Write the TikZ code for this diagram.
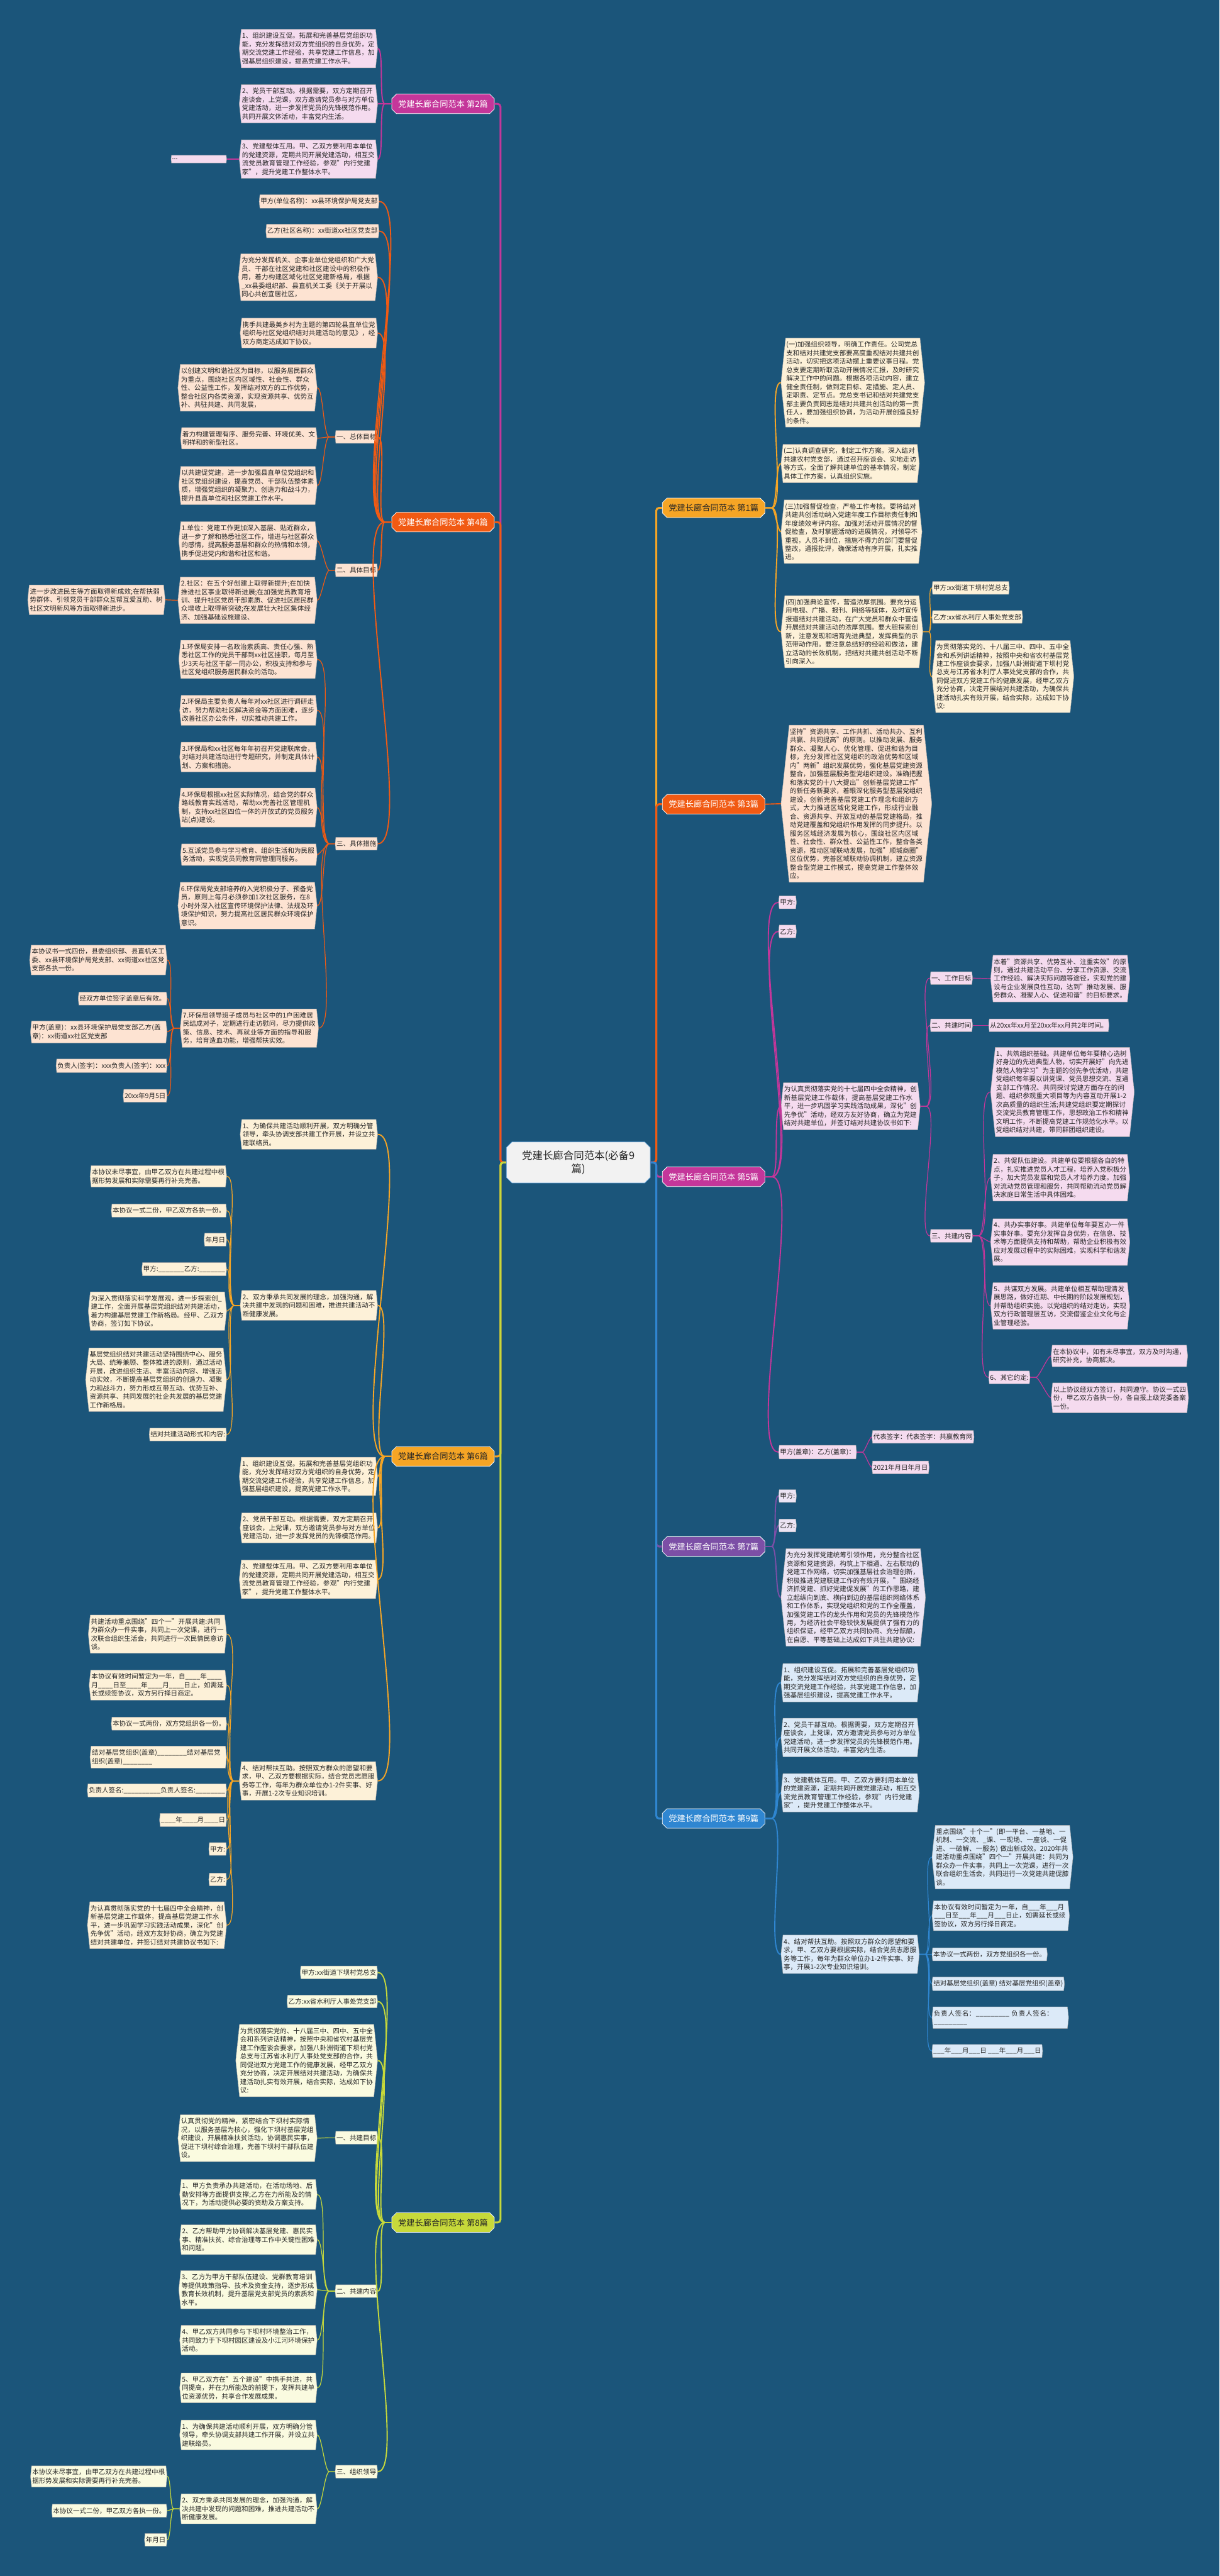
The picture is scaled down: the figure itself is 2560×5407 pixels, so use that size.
\documentclass[tikz,border=0pt]{standalone}
\usepackage{fontspec}
\setmainfont{Noto Sans CJK SC}
\XeTeXlinebreaklocale "zh"
\XeTeXlinebreakskip=0pt plus 1pt
\newcommand\cjkbrk{\hskip0pt plus 0.4pt\relax}
\XeTeXinterchartokenstate=1
\XeTeXinterchartoks 1 1 = {\cjkbrk}
\XeTeXinterchartoks 1 2 = {\cjkbrk}
\XeTeXinterchartoks 1 3 = {\cjkbrk}
\XeTeXinterchartoks 2 1 = {\cjkbrk}
\XeTeXinterchartoks 3 1 = {\cjkbrk}
\XeTeXinterchartoks 3 2 = {\cjkbrk}
\XeTeXinterchartoks 3 3 = {\cjkbrk}
\XeTeXinterchartoks 0 1 = {\cjkbrk}
\XeTeXinterchartoks 1 0 = {\cjkbrk}
\XeTeXinterchartoks 0 3 = {\cjkbrk}
\XeTeXinterchartoks 3 0 = {\cjkbrk}
\XeTeXinterchartoks 0 2 = {\cjkbrk}
\newcommand\leaffont{\fontsize{13.9}{17.8}\selectfont\lineskiplimit=-40pt\relax}
\newcommand\hubfont{\fontsize{21.7}{28}\selectfont\lineskiplimit=-40pt\relax}
\usetikzlibrary{shapes.symbols,shapes.misc}

\definecolor{bgc}{HTML}{1B557A}
\definecolor{mag}{HTML}{C4369A}
\definecolor{magL}{HTML}{F5DBEF}
\definecolor{org}{HTML}{F15A13}
\definecolor{orgL}{HTML}{FDE3D2}
\definecolor{yel}{HTML}{F6A525}
\definecolor{yelL}{HTML}{FDF1D8}
\definecolor{pur}{HTML}{7C4FA6}
\definecolor{purL}{HTML}{ECE4F4}
\definecolor{grn}{HTML}{C7D93A}
\definecolor{grnL}{HTML}{FAFBE0}
\definecolor{blu}{HTML}{2F86D1}
\definecolor{bluL}{HTML}{DCEAF8}

\tikzset{
  leaf/.style={signal, signal to=east and west, signal pointer angle=168,
    inner xsep=1.5pt, inner ysep=7pt, align=left, text=black!85,
    font=\leaffont},
  wide/.style={leaf, text width=279pt},
  pk/.style={fill=magL, draw=black!35, line width=0.6pt},
  pe/.style={fill=orgL, draw=black!35, line width=0.6pt},
  cr/.style={fill=yelL, draw=black!35, line width=0.6pt},
  lv/.style={fill=purL, draw=black!35, line width=0.6pt},
  lg/.style={fill=grnL, draw=black!35, line width=0.6pt},
  lb/.style={fill=bluL, draw=black!35, line width=0.6pt},
  ban/.style={chamfered rectangle, chamfered rectangle xsep=6pt,
    minimum width=215pt, minimum height=41pt, inner sep=2pt,
    draw=white, line width=1pt, font=\fontsize{17.5}{21}\selectfont},
  hub/.style={chamfered rectangle, chamfered rectangle xsep=8pt,
    fill=black!5, draw=blu!70, line width=1pt, minimum width=302pt,
    minimum height=86pt, align=center, text=black!85, font=\hubfont},
  trk/.style={line width=4pt, rounded corners=6pt},
  l1/.style={line width=2.5pt},
  l2/.style={line width=1.6pt},
  fl/.style={out=180,in=0,looseness=0.3},
  fr/.style={out=0,in=180,looseness=0.3}
}

\begin{document}
\begin{tikzpicture}[x=1pt,y=-1pt]
\fill[bgc] (0,0) rectangle (2560,5407);

\node[hub] (ctr) at (1214,2440) {党建长廊合同范本(必备9\\篇)};

% left: 第2篇
\node[ban, fill=mag, text=white] (b2) at (930,218) {党建长廊合同范本 第2篇};
\node[wide, pk, anchor=east] (b2a) at (793,102) {1、组织建设互促。拓展和完善基层党组织功能，充分发挥结对双方党组织的自身优势，定期交流党建工作经验，共享党建工作信息，加强基层组织建设，提高党建工作水平。};
\node[wide, pk, anchor=east] (b2b) at (793,218) {2、党员干部互动。根据需要，双方定期召开座谈会，上党课，双方邀请党员参与对方单位党建活动，进一步发挥党员的先锋模范作用。共同开展文体活动，丰富党内生活。};
\node[wide, pk, anchor=east] (b2c) at (793,334) {3、党建载体互用。甲、乙双方要利用本单位的党建资源，定期共同开展党建活动，相互交流党员教育管理工作经验，参观"内行党建家"，提升党建工作整体水平。};
\node[leaf, pk, anchor=east, text width=112pt] (b2d) at (476,334) {...};

% left: 第4篇
\node[ban, fill=org, text=white] (b4) at (930,1096) {党建长廊合同范本 第4篇};
\node[leaf, pe, anchor=east] (b4a) at (796,423) {甲方(单位名称)：xx县环境保护局党支部};
\node[leaf, pe, anchor=east] (b4b) at (796,485) {乙方(社区名称)：xx街道xx社区党支部};
\node[wide, pe, anchor=east] (b4c) at (793,582) {为充分发挥机关、企事业单位党组织和广大党员、干部在社区党建和社区建设中的积极作用，着力构建区域化社区党建新格局，根据\_xx县委组织部、县直机关工委《关于开展以同心共创宜居社区，};
\node[wide, pe, anchor=east] (b4d) at (793,699) {携手共建最美乡村为主题的第四轮县直单位党组织与社区党组织结对共建活动的意见》，经双方商定达成如下协议。};
\node[leaf, pe, anchor=east] (b4e) at (793,917) {一、总体目标};
\node[wide, pe, anchor=east] (b4e1) at (666,814) {以创建文明和谐社区为目标，以服务居民群众为重点，围绕社区内区域性、社会性、群众性、公益性工作，发挥结对双方的工作优势，整合社区内各类资源，实现资源共享、优势互补、共驻共建、共同发展，};
\node[wide, pe, anchor=east] (b4e2) at (666,920) {着力构建管理有序、服务完善、环境优美、文明祥和的新型社区。};
\node[wide, pe, anchor=east] (b4e3) at (666,1019) {以共建促党建，进一步加强县直单位党组织和社区党组织建设，提高党员、干部队伍整体素质，增强党组织的凝聚力、创造力和战斗力，提升县直单位和社区党建工作水平。};
\node[leaf, pe, anchor=east] (b4f) at (793,1197) {二、具体目标};
\node[wide, pe, anchor=east] (b4f1) at (666,1135) {1.单位：党建工作更加深入基层、贴近群众，进一步了解和熟悉社区工作，增进与社区群众的感情，提高服务基层和群众的热情和本领，携手促进党内和谐和社区和谐。};
\node[wide, pe, anchor=east] (b4f2) at (666,1260) {2.社区：在五个好创建上取得新提升;在加快推进社区事业取得新进展;在加强党员教育培训、提升社区党员干部素质、促进社区居民群众增收上取得新突破;在发展壮大社区集体经济、加强基础设施建设、};
\node[wide, pe, anchor=east] (b4f2a) at (347,1259) {进一步改进民生等方面取得新成效;在帮扶弱势群体、引领党员干部群众互帮互爱互助、树社区文明新风等方面取得新进步。};
\node[leaf, pe, anchor=east] (b4g) at (793,1771) {三、具体措施};
\node[wide, pe, anchor=east] (b4g1) at (666,1384) {1.环保局安排一名政治素质高、责任心强、熟悉社区工作的党员干部到xx社区挂职，每月至少3天与社区干部一同办公，积极支持和参与社区党组织服务居民群众的活动。};
\node[wide, pe, anchor=east] (b4g2) at (666,1491) {2.环保局主要负责人每年对xx社区进行调研走访，努力帮助社区解决资金等方面困难，逐步改善社区办公条件，切实推动共建工作。};
\node[wide, pe, anchor=east] (b4g3) at (666,1589) {3.环保局和xx社区每年年初召开党建联席会，对结对共建活动进行专题研究，并制定具体计划、方案和措施。};
\node[wide, pe, anchor=east] (b4g4) at (666,1695) {4.环保局根据xx社区实际情况，结合党的群众路线教育实践活动，帮助xx完善社区管理机制，支持xx社区四位一体的开放式的党员服务站(点)建设。};
\node[wide, pe, anchor=east] (b4g5) at (666,1794) {5.互派党员参与学习教育、组织生活和为民服务活动，实现党员同教育同管理同服务。};
\node[wide, pe, anchor=east] (b4g6) at (666,1901) {6.环保局党支部培养的入党积极分子、预备党员，原则上每月必须参加1次社区服务，在8小时外深入社区宣传环境保护法律、法规及环境保护知识，努力提高社区居民群众环境保护意识。};
\node[wide, pe, anchor=east] (b4g7) at (669,2158) {7.环保局领导班子成员与社区中的1户困难居民结成对子，定期进行走访慰问，尽力提供政策、信息、技术、再就业等方面的指导和服务，培育造血功能，增强帮扶实效。};
\node[wide, pe, anchor=east] (b4h1) at (351,2015) {本协议书一式四份，县委组织部、县直机关工委、xx县环境保护局党支部、xx街道xx社区党支部各执一份。};
\node[leaf, pe, anchor=east] (b4h2) at (351,2096) {经双方单位签字盖章后有效。};
\node[wide, pe, anchor=east] (b4h3) at (351,2166) {甲方(盖章)：xx县环境保护局党支部乙方(盖章)：xx街道xx社区党支部};
\node[leaf, pe, anchor=east] (b4h4) at (351,2237) {负责人(签字)：xxx负责人(签字)：xxx};
\node[leaf, pe, anchor=east] (b4h5) at (351,2300) {20xx年9月5日};

% left: 第6篇
\node[ban, fill=yel, text=black!85] (b6) at (930,3057) {党建长廊合同范本 第6篇};
\node[wide, cr, anchor=east] (b6a) at (793,2381) {1、为确保共建活动顺利开展，双方明确分管领导，牵头协调支部共建工作开展，并设立共建联络员。};
\node[wide, cr, anchor=east] (b6b) at (793,2740) {2、双方秉承共同发展的理念，加强沟通，解决共建中发现的问题和困难，推进共建活动不断健康发展。};
\node[wide, cr, anchor=east] (b6b1) at (476,2469) {本协议未尽事宜，由甲乙双方在共建过程中根据形势发展和实际需要再行补充完善。};
\node[leaf, cr, anchor=east] (b6b2) at (476,2541) {本协议一式二份，甲乙双方各执一份。};
\node[leaf, cr, anchor=east] (b6b3) at (476,2602) {年月日};
\node[leaf, cr, anchor=east] (b6b4) at (476,2664) {甲方:\_\_\_\_\_\_\_乙方:\_\_\_\_\_\_\_};
\node[wide, cr, anchor=east] (b6b5) at (476,2752) {为深入贯彻落实科学发展观，进一步探索创\_建工作，全面开展基层党组织结对共建活动，着力构建基层党建工作新格局。经甲、乙双方协商，签订如下协议。};
\node[wide, cr, anchor=east] (b6b6) at (476,2896) {基层党组织结对共建活动坚持围绕中心、服务大局、统筹兼顾、整体推进的原则，通过活动开展，改进组织生活、丰富活动内容、增强活动实效，不断提高基层党组织的创造力、凝聚力和战斗力，努力形成互带互动、优势互补、资源共享、共同发展的社企共发展的基层党建工作新格局。};
\node[leaf, cr, anchor=east] (b6b7) at (476,3011) {结对共建活动形式和内容:};
\node[wide, cr, anchor=east] (b6c) at (793,3099) {1、组织建设互促。拓展和完善基层党组织功能，充分发挥结对双方党组织的自身优势，定期交流党建工作经验，共享党建工作信息，加强基层组织建设，提高党建工作水平。};
\node[wide, cr, anchor=east] (b6d) at (793,3207) {2、党员干部互动。根据需要，双方定期召开座谈会，上党课，双方邀请党员参与对方单位党建活动，进一步发挥党员的先锋模范作用。};
\node[wide, cr, anchor=east] (b6e) at (793,3315) {3、党建载体互用。甲、乙双方要利用本单位的党建资源，定期共同开展党建活动，相互交流党员教育管理工作经验，参观"内行党建家"，提升党建工作整体水平。};
\node[wide, cr, anchor=east] (b6f) at (793,3738) {4、结对帮扶互助。按照双方群众的愿望和要求，甲、乙双方要根据实际，结合党员志愿服务等工作，每年为群众单位办1-2件实事、好事，开展1-2次专业知识培训。};
\node[wide, cr, anchor=east] (b6f1) at (476,3430) {共建活动重点围绕"四个一"开展共建:共同为群众办一件实事，共同上一次党课，进行一次联合组织生活会，共同进行一次民情民意访谈。};
\node[wide, cr, anchor=east] (b6f2) at (476,3537) {本协议有效时间暂定为一年，自\_\_\_\_年\_\_\_\_月\_\_\_\_日至\_\_\_\_年\_\_\_\_月\_\_\_\_日止，如需延长或续签协议，双方另行择日商定。};
\node[leaf, cr, anchor=east] (b6f3) at (476,3618) {本协议一式两份，双方党组织各一份。};
\node[wide, cr, anchor=east] (b6f4) at (476,3688) {结对基层党组织(盖章)\_\_\_\_\_\_\_\_结对基层党组织(盖章)\_\_\_\_\_\_\_\_};
\node[leaf, cr, anchor=east] (b6f5) at (476,3758) {负责人签名:\_\_\_\_\_\_\_\_\_\_负责人签名:\_\_\_\_\_\_\_\_};
\node[leaf, cr, anchor=east] (b6f6) at (476,3820) {\_\_\_\_年\_\_\_\_月\_\_\_\_日};
\node[leaf, cr, anchor=east] (b6f7) at (476,3881) {甲方:};
\node[leaf, cr, anchor=east] (b6f8) at (476,3945) {乙方:};
\node[wide, cr, anchor=east] (b6f9) at (476,4041) {为认真贯彻落实党的十七届四中全会精神，创新基层党建工作载体，提高基层党建工作水平，进一步巩固学习实践活动成果，深化"创先争优"活动，经双方友好协商，确立为党建结对共建单位，并签订结对共建协议书如下:};

% left: 第8篇
\node[ban, fill=grn, text=black!85] (b8) at (930,4665) {党建长廊合同范本 第8篇};
\node[leaf, lg, anchor=east] (b8a) at (793,4140) {甲方:xx街道下坝村党总支};
\node[leaf, lg, anchor=east] (b8b) at (793,4201) {乙方:xx省水利厅人事处党支部};
\node[wide, lg, anchor=east] (b8c) at (793,4325) {为贯彻落实党的、十八届三中、四中、五中全会和系列讲话精神，按照中央和省农村基层党建工作座谈会要求，加强八卦洲街道下坝村党总支与江苏省水利厅人事处党支部的合作，共同促进双方党建工作的健康发展，经甲乙双方充分协商，决定开展结对共建活动，为确保共建活动扎实有效开展，结合实际，达成如下协议:};
\node[leaf, lg, anchor=east] (b8d) at (793,4487) {一、共建目标};
\node[wide, lg, anchor=east] (b8d1) at (666,4488) {认真贯彻党的精神，紧密结合下坝村实际情况，以服务基层为核心，强化下坝村基层党组织建设，开展精准扶贫活动，协调惠民实事，促进下坝村综合治理，完善下坝村干部队伍建设。};
\node[leaf, lg, anchor=east] (b8e) at (793,4809) {二、共建内容};
\node[wide, lg, anchor=east] (b8e1) at (666,4606) {1、甲方负责承办共建活动，在活动场地、后勤安排等方面提供支撑;乙方在力所能及的情况下，为活动提供必要的资助及方案支持。};
\node[wide, lg, anchor=east] (b8e2) at (666,4701) {2、乙方帮助甲方协调解决基层党建、惠民实事、精准扶贫、综合治理等工作中关键性困难和问题。};
\node[wide, lg, anchor=east] (b8e3) at (666,4806) {3、乙方为甲方干部队伍建设、党群教育培训等提供政策指导、技术及资金支持，逐步形成教育长效机制，提升基层党支部党员的素质和水平。};
\node[wide, lg, anchor=east] (b8e4) at (666,4912) {4、甲乙双方共同参与下坝村环境整治工作，共同致力于下坝村园区建设及小江河环境保护活动。};
\node[wide, lg, anchor=east] (b8e5) at (666,5012) {5、甲乙双方在"五个建设"中携手共进，共同提高，并在力所能及的前提下，发挥共建单位资源优势，共享合作发展成果。};
\node[leaf, lg, anchor=east] (b8f) at (793,5188) {三、组织领导};
\node[wide, lg, anchor=east] (b8f1) at (666,5111) {1、为确保共建活动顺利开展，双方明确分管领导，牵头协调支部共建工作开展，并设立共建联络员。};
\node[wide, lg, anchor=east] (b8f2) at (666,5266) {2、双方秉承共同发展的理念，加强沟通，解决共建中发现的问题和困难，推进共建活动不断健康发展。};
\node[wide, lg, anchor=east] (b8f2a) at (351,5198) {本协议未尽事宜，由甲乙双方在共建过程中根据形势发展和实际需要再行补充完善。};
\node[leaf, lg, anchor=east] (b8f2b) at (351,5270) {本协议一式二份，甲乙双方各执一份。};
\node[leaf, lg, anchor=east] (b8f2c) at (351,5331) {年月日};

% right: 第1篇
\node[ban, fill=yel, text=black!85] (r1) at (1498,1066) {党建长廊合同范本 第1篇};
\node[wide, cr, anchor=west] (r1a) at (1639,803) {(一)加强组织领导，明确工作责任。公司党总支和结对共建党支部要高度重视结对共建共创活动，切实把这项活动摆上重要议事日程。党总支要定期听取活动开展情况汇报，及时研究解决工作中的问题。根据各项活动内容，建立健全责任制，做到定目标、定措施、定人员、定职责、定节点。党总支书记和结对共建党支部主要负责同志是结对共建共创活动的第一责任人，要加强组织协调，为活动开展创造良好的条件。};
\node[wide, cr, anchor=west] (r1b) at (1639,973) {(二)认真调查研究，制定工作方案。深入结对共建农村党支部，通过召开座谈会、实地走访等方式，全面了解共建单位的基本情况，制定具体工作方案，认真组织实施。};
\node[wide, cr, anchor=west] (r1c) at (1639,1116) {(三)加强督促检查，严格工作考核。要将结对共建共创活动纳入党建年度工作目标责任制和年度绩效考评内容。加强对活动开展情况的督促检查，及时掌握活动的进展情况，对领导不重视，人员不到位，措施不得力的部门要督促整改，通报批评，确保活动有序开展，扎实推进。};
\node[wide, cr, anchor=west] (r1d) at (1639,1326) {(四)加强典论宣传，营造浓厚氛围。要充分运用电视、广播、报刊、网络等媒体，及时宣传报道结对共建活动，在广大党员和群众中营造开展结对共建活动的浓厚氛围。要大胆探索创新，注意发现和培育先进典型，发挥典型的示范带动作用。要注意总结好的经验和做法，建立活动的长效机制，把结对共建共创活动不断引向深入。};
\node[leaf, cr, anchor=west] (r1d1) at (1956,1234) {甲方:xx街道下坝村党总支};
\node[leaf, cr, anchor=west] (r1d2) at (1956,1295) {乙方:xx省水利厅人事处党支部};
\node[wide, cr, anchor=west] (r1d3) at (1956,1420) {为贯彻落实党的、十八届三中、四中、五中全会和系列讲话精神，按照中央和省农村基层党建工作座谈会要求，加强八卦洲街道下坝村党总支与江苏省水利厅人事处党支部的合作，共同促进双方党建工作的健康发展，经甲乙双方充分协商，决定开展结对共建活动，为确保共建活动扎实有效开展，结合实际，达成如下协议:};

% right: 第3篇
\node[ban, fill=org, text=white] (r3) at (1498,1688) {党建长廊合同范本 第3篇};
\node[wide, pe, anchor=west] (r3a) at (1639,1687) {坚持"资源共享、工作共抓、活动共办、互利共赢、共同提高"的原则。以推动发展、服务群众、凝聚人心、优化管理、促进和谐为目标，充分发挥社区党组织的政治优势和区域内"两新"组织发展优势，强化基层党建资源整合，加强基层服务型党组织建设。准确把握和落实党的十八大提出"创新基层党建工作"的新任务新要求，着眼深化服务型基层党组织建设，创新完善基层党建工作理念和组织方式，大力推进区域化党建工作，形成行业融合、资源共享、开放互动的基层党建格局，推动党建覆盖和党组织作用发挥的同步提升。以服务区域经济发展为核心，围绕社区内区域性、社会性、群众性、公益性工作，整合各类资源，推动区域联动发展，加强"顺城商圈"区位优势，完善区域联动协调机制，建立资源整合型党建工作模式，提高党建工作整体效应。};

% right: 第5篇
\node[ban, fill=mag, text=white] (r5) at (1498,2470) {党建长廊合同范本 第5篇};
\node[leaf, pk, anchor=west] (r5a) at (1634,1894) {甲方:};
\node[leaf, pk, anchor=west] (r5b) at (1634,1955) {乙方:};
\node[wide, pk, anchor=west] (r5c) at (1639,2322) {为认真贯彻落实党的十七届四中全会精神，创新基层党建工作载体，提高基层党建工作水平，进一步巩固学习实践活动成果，深化"创先争优"活动，经双方友好协商，确立为党建结对共建单位，并签订结对共建协议书如下:};
\node[leaf, pk, anchor=west] (r5d) at (1952,2053) {一、工作目标};
\node[wide, pk, anchor=west] (r5d1) at (2079,2054) {本着"资源共享、优势互补、注重实效"的原则，通过共建活动平台、分享工作资源、交流工作经验、解决实际问题等途径，实现党的建设与企业发展良性互动，达到"推动发展、服务群众、凝聚人心、促进和谐"的目标要求。};
\node[leaf, pk, anchor=west] (r5e) at (1952,2152) {二、共建时间};
\node[leaf, pk, anchor=west] (r5e1) at (2075,2152) {从20xx年xx月至20xx年xx月共2年时间。};
\node[leaf, pk, anchor=west] (r5f) at (1952,2594) {三、共建内容};
\node[wide, pk, anchor=west] (r5f1) at (2079,2292) {1、共筑组织基础。共建单位每年要精心选树好身边的先进典型人物，切实开展好"向先进模范人物学习"为主题的创先争优活动，共建党组织每年要以讲党课、党员思想交流、互通支部工作情况、共同探讨党建方面存在的问题、组织参观重大项目等为内容互动开展1-2次高质量的组织生活;共建党组织要定期探讨交流党员教育管理工作，思想政治工作和精神文明工作，不断提高党建工作规范化水平。以党组织结对共建，带同群团组织建设。};
\node[wide, pk, anchor=west] (r5f2) at (2079,2472) {2、共促队伍建设。共建单位要根据各自的特点，扎实推进党员人才工程，培养入党积极分子，加大党员发展和党员人才培养力度。加强对流动党员管理和服务，共同帮助流动党员解决家庭日常生活中具体困难。};
\node[wide, pk, anchor=west] (r5f3) at (2079,2607) {4、共办实事好事。共建单位每年要互办一件实事好事。要充分发挥自身优势，在信息、技术等方面提供支持和帮助，帮助企业积极有效应对发展过程中的实际困难，实现科学和谐发展。};
\node[wide, pk, anchor=west] (r5f4) at (2079,2741) {5、共谋双方发展。共建单位相互帮助理清发展思路，做好近期、中长期的阶段发展规划，并帮助组织实施。以党组织的结对走访，实现双方行政管理层互访，交流借鉴企业文化与企业管理经验。};
\node[leaf, pk, anchor=west] (r5f5) at (2075,2891) {6、其它约定:};
\node[wide, pk, anchor=west] (r5f5a) at (2206,2846) {在本协议中，如有未尽事宜，双方及时沟通，研究补充，协商解决。};
\node[wide, pk, anchor=west] (r5f5b) at (2206,2934) {以上协议经双方签订，共同遵守。协议一式四份，甲乙双方各执一份，各自报上级党委备案一份。};
\node[leaf, pk, anchor=west] (r5g) at (1634,3048) {甲方(盖章)：乙方(盖章)：};
\node[leaf, pk, anchor=west] (r5g1) at (1830,3016) {代表签字：代表签字：共赢教育网};
\node[leaf, pk, anchor=west] (r5g2) at (1830,3080) {2021年月日年月日};

% right: 第7篇
\node[ban, fill=pur, text=white] (r7) at (1498,3246) {党建长廊合同范本 第7篇};
\node[leaf, lv, anchor=west] (r7a) at (1634,3140) {甲方:};
\node[leaf, lv, anchor=west] (r7b) at (1634,3202) {乙方:};
\node[wide, lv, anchor=west] (r7c) at (1639,3353) {为充分发挥党建统筹引领作用，充分整合社区资源和党建资源，构筑上下相通、左右联动的党建工作网络，切实加强基层社会治理创新，积极推进党建联建工作的有效开展，"围绕经济抓党建、抓好党建促发展"的工作思路，建立起纵向到底、横向到边的基层组织网络体系和工作体系，实现党组织和党的工作全覆盖，加强党建工作的龙头作用和党员的先锋模范作用，为经济社会平稳较快发展提供了强有力的组织保证，经甲乙双方共同协商、充分酝酿，在自愿、平等基础上达成如下共驻共建协议:};

% right: 第9篇
\node[ban, fill=blu, text=white] (r9) at (1498,3817) {党建长廊合同范本 第9篇};
\node[wide, lb, anchor=west] (r9a) at (1639,3532) {1、组织建设互促。拓展和完善基层党组织功能，充分发挥结对双方党组织的自身优势，定期交流党建工作经验，共享党建工作信息，加强基层组织建设，提高党建工作水平。};
\node[wide, lb, anchor=west] (r9b) at (1639,3647) {2、党员干部互动。根据需要，双方定期召开座谈会，上党课，双方邀请党员参与对方单位党建活动，进一步发挥党员的先锋模范作用。共同开展文体活动，丰富党内生活。};
\node[wide, lb, anchor=west] (r9c) at (1639,3763) {3、党建载体互用。甲、乙双方要利用本单位的党建资源，定期共同开展党建活动，相互交流党员教育管理工作经验，参观"内行党建家"，提升党建工作整体水平。};
\node[wide, lb, anchor=west] (r9d) at (1639,4102) {4、结对帮扶互助。按照双方群众的愿望和要求，甲、乙双方要根据实际，结合党员志愿服务等工作，每年为群众单位办1-2件实事、好事，开展1-2次专业知识培训。};
\node[wide, lb, anchor=west] (r9d1) at (1956,3898) {重点围绕"十个一"(即一平台、一基地、一机制、一交流、\_课、一现场、一座谈、一促进、一破解、一服务) 做出新成效。2020年共建活动重点围绕"四个一"开展共建：共同为群众办一件实事，共同上一次党课，进行一次联合组织生活会，共同进行一次党建共建促膝谈。};
\node[wide, lb, anchor=west] (r9d2) at (1956,4021) {本协议有效时间暂定为一年，自\_\_\_年\_\_\_月\_\_\_日至\_\_\_年\_\_\_月\_\_\_日止，如需延长或续签协议，双方另行择日商定。};
\node[leaf, lb, anchor=west] (r9d3) at (1956,4102) {本协议一式两份，双方党组织各一份。};
\node[leaf, lb, anchor=west] (r9d4) at (1956,4164) {结对基层党组织(盖章) 结对基层党组织(盖章)};
\node[wide, lb, anchor=west] (r9d5) at (1956,4235) {负责人签名：\_\_\_\_\_\_\_\_\_ 负责人签名：\_\_\_\_\_\_\_\_\_};
\node[leaf, lb, anchor=west] (r9d6) at (1956,4305) {\_\_\_年\_\_\_月\_\_\_日 \_\_\_年\_\_\_月\_\_\_日};

% trunks
\draw[trk, mag] (ctr.west) -- ++(-12,0) |- (b2.east);
\draw[trk, org] (ctr.west) -- ++(-12,0) |- (b4.east);
\draw[trk, yel] (ctr.west) -- ++(-12,0) |- (b6.east);
\draw[trk, grn] (ctr.west) -- ++(-12,0) |- (b8.east);
\draw[trk, yel] (ctr.east) -- ++(12,0) |- (r1.west);
\draw[trk, org] (ctr.east) -- ++(12,0) |- (r3.west);
\draw[trk, mag] (ctr.east) -- ++(12,0) |- (r5.west);
\draw[trk, pur] (ctr.east) -- ++(12,0) |- (r7.west);
\draw[trk, blu] (ctr.east) -- ++(12,0) |- (r9.west);

% branches, left
\foreach \c in {b2a,b2b,b2c} \draw[l1, mag] (b2.west) -- ++(-14,0) to[fl] (\c.east);
\draw[l2, mag] (b2c.west) -- (b2d.east);
\foreach \c in {b4a,b4b,b4c,b4d,b4e,b4f,b4g} \draw[l1, org] (b4.west) -- ++(-14,0) to[fl] (\c.east);
\foreach \c in {b4e1,b4e2,b4e3} \draw[l2, org] (b4e.west) -- ++(-12,0) to[fl] (\c.east);
\foreach \c in {b4f1,b4f2} \draw[l2, org] (b4f.west) -- ++(-12,0) to[fl] (\c.east);
\draw[l2, org] (b4f2.west) -- (b4f2a.east);
\foreach \c in {b4g1,b4g2,b4g3,b4g4,b4g5,b4g6,b4g7} \draw[l2, org] (b4g.west) -- ++(-12,0) to[fl] (\c.east);
\foreach \c in {b4h1,b4h2,b4h3,b4h4,b4h5} \draw[l2, org] (b4g7.west) -- ++(-12,0) to[fl] (\c.east);
\foreach \c in {b6a,b6b,b6c,b6d,b6e,b6f} \draw[l1, yel] (b6.west) -- ++(-14,0) to[fl] (\c.east);
\foreach \c in {b6b1,b6b2,b6b3,b6b4,b6b5,b6b6,b6b7} \draw[l2, yel] (b6b.west) -- ++(-12,0) to[fl] (\c.east);
\foreach \c in {b6f1,b6f2,b6f3,b6f4,b6f5,b6f6,b6f7,b6f8,b6f9} \draw[l2, yel] (b6f.west) -- ++(-12,0) to[fl] (\c.east);
\foreach \c in {b8a,b8b,b8c,b8d,b8e,b8f} \draw[l1, grn] (b8.west) -- ++(-14,0) to[fl] (\c.east);
\draw[l2, grn] (b8d.west) -- ++(-12,0) to[fl] (b8d1.east);
\foreach \c in {b8e1,b8e2,b8e3,b8e4,b8e5} \draw[l2, grn] (b8e.west) -- ++(-12,0) to[fl] (\c.east);
\foreach \c in {b8f1,b8f2} \draw[l2, grn] (b8f.west) -- ++(-12,0) to[fl] (\c.east);
\foreach \c in {b8f2a,b8f2b,b8f2c} \draw[l2, grn] (b8f2.west) -- ++(-12,0) to[fl] (\c.east);

% branches, right
\foreach \c in {r1a,r1b,r1c,r1d} \draw[l1, yel] (r1.east) -- ++(14,0) to[fr] (\c.west);
\foreach \c in {r1d1,r1d2,r1d3} \draw[l2, yel] (r1d.east) -- ++(12,0) to[fr] (\c.west);
\draw[l1, org] (r3.east) -- (r3a.west);
\foreach \c in {r5a,r5b,r5c,r5g} \draw[l1, mag] (r5.east) -- ++(14,0) to[fr] (\c.west);
\foreach \c in {r5d,r5e,r5f} \draw[l2, mag] (r5c.east) -- ++(12,0) to[fr] (\c.west);
\draw[l2, mag] (r5d.east) -- (r5d1.west);
\draw[l2, mag] (r5e.east) -- (r5e1.west);
\foreach \c in {r5f1,r5f2,r5f3,r5f4,r5f5} \draw[l2, mag] (r5f.east) -- ++(12,0) to[fr] (\c.west);
\foreach \c in {r5f5a,r5f5b} \draw[l2, mag] (r5f5.east) -- ++(12,0) to[fr] (\c.west);
\foreach \c in {r5g1,r5g2} \draw[l2, mag] (r5g.east) -- ++(12,0) to[fr] (\c.west);
\foreach \c in {r7a,r7b,r7c} \draw[l1, pur] (r7.east) -- ++(14,0) to[fr] (\c.west);
\foreach \c in {r9a,r9b,r9c,r9d} \draw[l1, blu] (r9.east) -- ++(14,0) to[fr] (\c.west);
\foreach \c in {r9d1,r9d2,r9d3,r9d4,r9d5,r9d6} \draw[l2, blu] (r9d.east) -- ++(12,0) to[fr] (\c.west);
\end{tikzpicture}
\end{document}
